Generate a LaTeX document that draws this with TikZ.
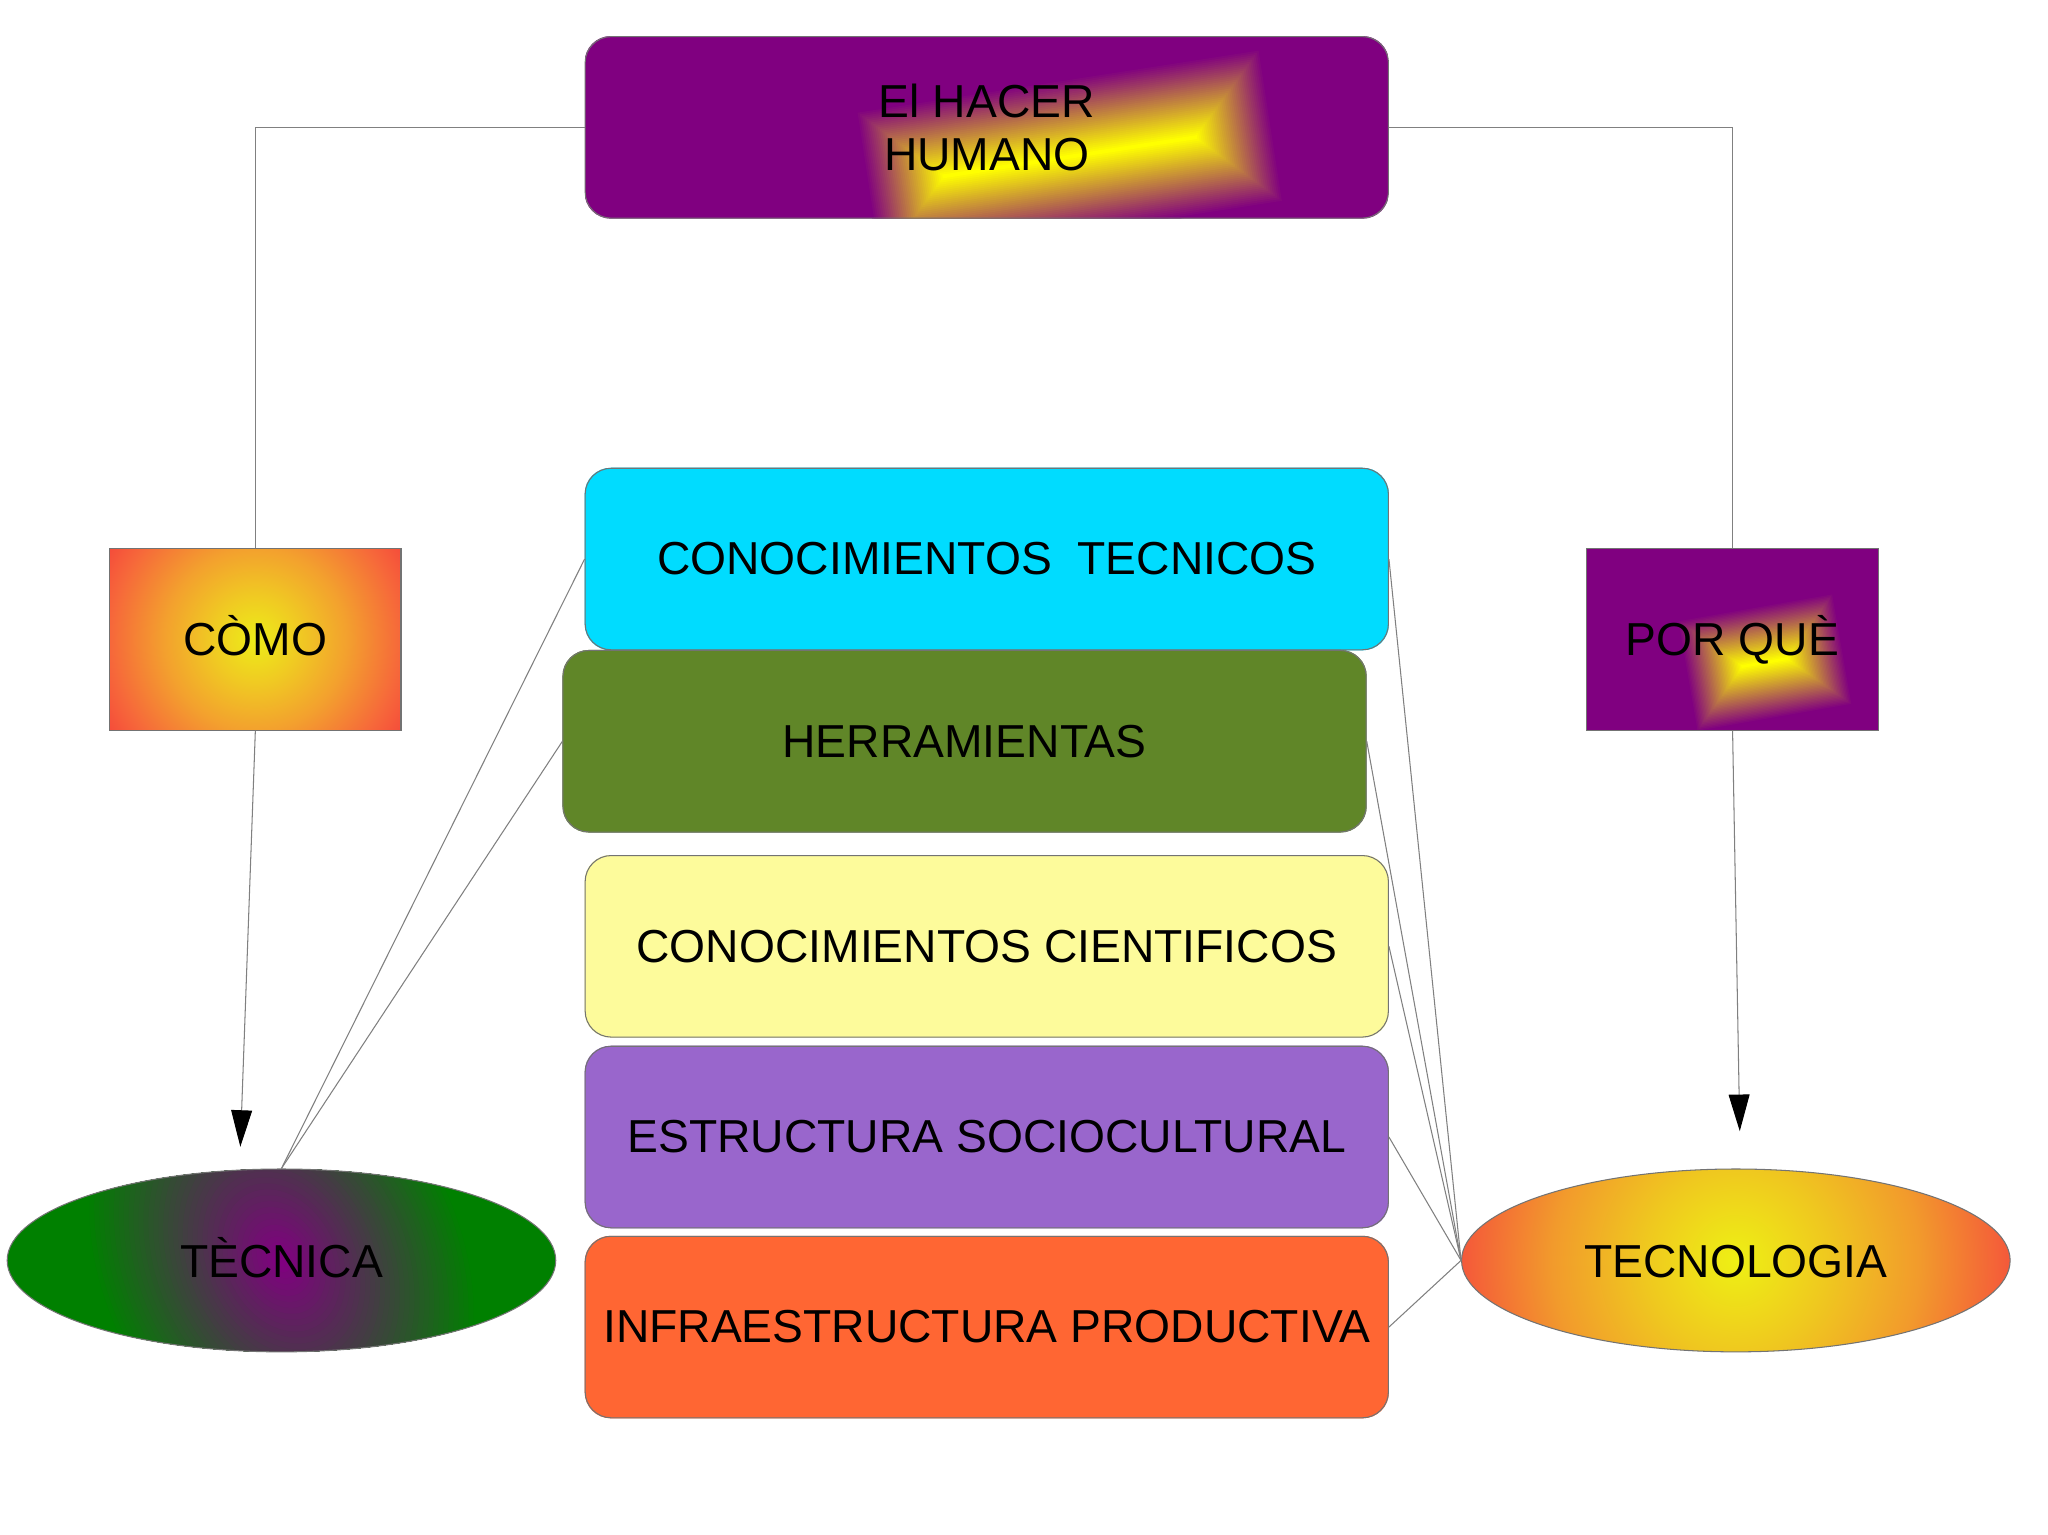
\documentclass[tikz,border=0pt]{standalone}
\usepackage{fontspec}
\setmainfont{Liberation Sans}
\usetikzlibrary{shapes.geometric,arrows.meta,backgrounds}
\definecolor{purpleC}{HTML}{800080}
\definecolor{yelC}{HTML}{FFFF00}
\definecolor{greenC}{HTML}{008000}
\definecolor{cyanC}{HTML}{00DCFF}
\definecolor{oliveC}{HTML}{608628}
\definecolor{paleC}{HTML}{FDFB9B}
\definecolor{lilacC}{HTML}{9966CC}
\definecolor{orangeC}{HTML}{FF6633}
\definecolor{lineC}{HTML}{808080}
\definecolor{cA}{HTML}{EDED18}
\definecolor{cB}{HTML}{F0C823}
\definecolor{cC}{HTML}{F3A02E}
\definecolor{cD}{HTML}{F6683A}
\definecolor{cE}{HTML}{F5483A}
\definecolor{dA}{HTML}{EEF014}
\definecolor{dB}{HTML}{EFC81F}
\definecolor{dC}{HTML}{F29A2C}
\definecolor{dD}{HTML}{F4583A}
\definecolor{dE}{HTML}{F4503A}
\pgfdeclareradialshading{comoshade}{\pgfpoint{0bp}{0bp}}{color(0bp)=(cA); color(6.5bp)=(cB); color(13bp)=(cC); color(20.5bp)=(cD); color(25bp)=(cE); color(50bp)=(cE)}
\pgfdeclareradialshading{tecnoshade}{\pgfpoint{0bp}{0bp}}{color(0bp)=(dA); color(8bp)=(dB); color(16bp)=(dC); color(23.9bp)=(dD); color(25bp)=(dE); color(50bp)=(dE)}
\begin{document}
\begin{tikzpicture}[x=0.5pt,y=-0.5pt,
  lab/.style={font=\fontsize{17.7}{20}\selectfont, text=black, align=center, inner sep=0pt},
  capfix/.style={text height=12.7pt, text depth=0pt},
  rbox/.style={lab, draw=black!55, line width=0.4pt, rounded corners=10pt, minimum width=307.5pt, minimum height=69.5pt},
  sbox/.style={lab, capfix, draw=black!55, line width=0.4pt, minimum width=111.5pt, minimum height=69.5pt},
  oval/.style={lab, capfix, ellipse, draw=black!55, line width=0.4pt, minimum width=210pt, minimum height=70pt},
  conn/.style={draw=lineC, line width=0.4pt},
  arr/.style={conn, -{Triangle[length=14pt,width=8pt,color=black]}},
]
\useasboundingbox (0,0) rectangle (1568,1175);

% nodes
\node[rbox] (top) at (755.5,97.5) {El HACER\\HUMANO};
\node[rbox] (ct) at (755.5,428) {CONOCIMIENTOS\ \ TECNICOS};
\node[rbox] (herr) at (738.5,567.5) {HERRAMIENTAS};
\node[rbox] (cc) at (755.5,724.5) {CONOCIMIENTOS CIENTIFICOS};
\node[rbox] (es) at (755.5,870.5) {ESTRUCTURA SOCIOCULTURAL};
\node[rbox] (ip) at (755.5,1016) {INFRAESTRUCTURA PRODUCTIVA};
\node[sbox] (como) at (195.5,489.5) {CÒMO};
\node[sbox] (porq) at (1326.5,489.5) {POR QUÈ};
\node[oval] (tec) at (215.5,965) {TÈCNICA};
\node[oval] (tecno) at (1329,965) {TECNOLOGIA};

\coordinate (tipL) at (184,878);
\coordinate (tipR) at (1332,866);

% backgrounds and gradients
\begin{pgfonlayer}{background}
  \fill[white] (0,0) rectangle (1568,1175);
  \foreach \n/\c in {ct/cyanC, herr/oliveC, cc/paleC, es/lilacC, ip/orangeC}
    \fill[\c, rounded corners=10pt] (\n.south west) rectangle (\n.north east);
  % top box
  \begin{scope}
    \clip[rounded corners=10pt] (top.south west) rectangle (top.north east);
    \fill[purpleC] (top.south west) rectangle (top.north east);
    \begin{scope}[shift={(819,120)}, rotate=8.8]
      \foreach \i in {0,...,39} {
        \pgfmathsetmacro\gd{\i*59.7/40}
        \pgfmathsetmacro\gp{100*\i/39}
        \fill[yelC!\gp!purpleC] (-156.85+\gd,-59.7+\gd) rectangle (156.85-\gd,59.7-\gd);
      }
    \end{scope}
  \end{scope}
  % por que box
  \begin{scope}
    \clip (porq.south west) rectangle (porq.north east);
    \fill[purpleC] (porq.south west) rectangle (porq.north east);
    \begin{scope}[shift={(1351.2,507.25)}, rotate=9.9]
      \foreach \i in {0,...,39} {
        \pgfmathsetmacro\gd{\i*43.65/40}
        \pgfmathsetmacro\gp{100*\i/39}
        \fill[yelC!\gp!purpleC] (-60.85+\gd,-43.65+\gd) rectangle (60.85-\gd,43.65-\gd);
      }
    \end{scope}
  \end{scope}
  % como box
  \begin{scope}
    \clip (como.south west) rectangle (como.north east);
    \begin{scope}[shift={(como.center)}]
      \shade[shading=comoshade] (-135,-135) rectangle (135,135);
    \end{scope}
  \end{scope}
  % tecnologia
  \begin{scope}
    \clip (tecno.center) ellipse [x radius=105pt, y radius=35pt];
    \begin{scope}[shift={(tecno.center)}]
      \shade[shading=tecnoshade] (-220,-220) rectangle (220,220);
    \end{scope}
  \end{scope}
  % tecnica
  \begin{scope}
    \clip (tec.center) ellipse [x radius=105pt, y radius=35pt];
    \fill[greenC] (tec.center) ellipse [x radius=106pt, y radius=36pt];
    \begin{scope}[shift={(tec.center)}, rotate=26]
      \foreach \i in {0,...,39} {
        \pgfmathsetmacro\gf{1-\i/40}
        \pgfmathsetmacro\gp{100*\i/39}
        \fill[purpleC!\gp!greenC] (0,0) ellipse [x radius=70pt*\gf, y radius=95pt*\gf];
      }
    \end{scope}
  \end{scope}
\end{pgfonlayer}

% connectors
\draw[conn] (top.west) -| (como.north);
\draw[conn] (top.east) -| (porq.north);
\draw[arr] (como.south) -- (tipL);
\draw[arr] (porq.south) -- (tipR);
\draw[conn] (tec.north) -- (ct.west);
\draw[conn] (tec.north) -- (herr.west);
\draw[conn] (tecno.west) -- (ct.east);
\draw[conn] (tecno.west) -- (herr.east);
\draw[conn] (tecno.west) -- (cc.east);
\draw[conn] (tecno.west) -- (es.east);
\draw[conn] (tecno.west) -- (ip.east);
\end{tikzpicture}
\end{document}
